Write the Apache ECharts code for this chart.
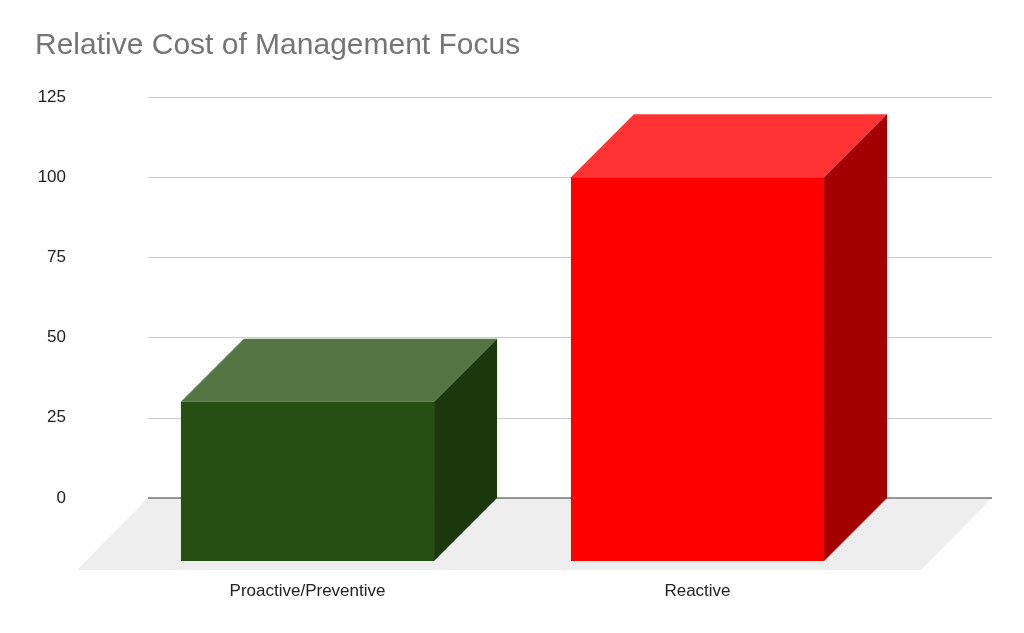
<!DOCTYPE html>
<html><head><meta charset="utf-8">
<script src="https://cdn.jsdelivr.net/npm/echarts@6/dist/echarts.min.js"></script>
<style>html,body{margin:0;background:#fff}#c{width:1024px;height:633px}</style>
</head><body><div id="c"></div>
<script>
const categories = ['Proactive/Preventive', 'Reactive'];
const values = [30, 100];
const frontColors = ['#274e13', '#ff0000'];
const topColors = ['#557545', '#ff3333'];
const sideColors = ['#1a380c', '#a30000'];
const D = 63;
const chart = echarts.init(document.getElementById('c'));
chart.setOption({
  animation: false,
  title: {text: 'Relative Cost of Management Focus', left: 30, top: 26,
    textStyle: {color: '#757575', fontSize: 30, fontWeight: 'normal', fontFamily: 'Liberation Sans'}},
  grid: [
    {left: 148, right: 32, top: 97, bottom: 135},
    {left: 112.5, right: 131.5, top: 97, bottom: 135}
  ],
  xAxis: [
    {type: 'value', gridIndex: 0, min: 0, max: 1, show: false},
    {type: 'category', gridIndex: 1, data: categories, axisLine: {show: false}, axisTick: {show: false},
     axisLabel: {margin: 85, color: '#222', fontSize: 17, fontFamily: 'Liberation Sans'}}
  ],
  yAxis: [
    {type: 'value', gridIndex: 0, min: 0, max: 125, interval: 25,
     axisLine: {show: false}, axisTick: {show: false},
     axisLabel: {margin: 82, color: '#222', fontSize: 17, fontFamily: 'Liberation Sans'},
     splitLine: {lineStyle: {color: '#cccccc', width: 1}}},
    {type: 'value', gridIndex: 1, min: 0, max: 125, interval: 25, show: false, splitLine: {show: false}}
  ],
  series: [
    {type: 'custom', xAxisIndex: 0, yAxisIndex: 0, data: [[0, 0]], z: 1,
     renderItem: function (params, api) {
       const a = api.coord([0, 0]), b = api.coord([1, 0]);
       return {type: 'group', children: [
         {type: 'polygon', shape: {points: [[a[0], a[1]], [b[0], b[1]], [b[0] - 71, b[1] + 72], [a[0] - 71, a[1] + 72]]},
          style: {fill: '#eeeeee'}},
         {type: 'line', shape: {x1: a[0], y1: a[1], x2: b[0], y2: b[1]}, style: {stroke: '#333', lineWidth: 1}}
       ]};
     }},
    {type: 'custom', xAxisIndex: 1, yAxisIndex: 1, z: 5,
     data: values.map((v, i) => [i, v]),
     renderItem: function (params, api) {
       const i = api.value(0);
       const t = api.coord([i, api.value(1)]), z = api.coord([i, 0]);
       const w = api.size([1, 0])[0] * 0.649;
       const x0 = t[0] - w / 2, x1 = t[0] + w / 2, yt = t[1], yb = z[1] + D;
       return {type: 'group', children: [
         {type: 'polygon', shape: {points: [[x0, yt], [x0 + D, yt - D], [x1 + D, yt - D], [x1, yt]]}, style: {fill: topColors[i]}},
         {type: 'polygon', shape: {points: [[x1, yt], [x1 + D, yt - D], [x1 + D, yb - D], [x1, yb]]}, style: {fill: sideColors[i]}},
         {type: 'rect', shape: {x: x0, y: yt, width: w, height: yb - yt}, style: {fill: frontColors[i]}}
       ]};
     }}
  ]
});
</script></body></html>
